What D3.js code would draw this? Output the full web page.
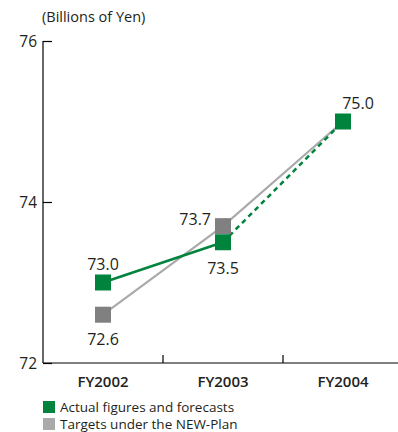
<!DOCTYPE html>
<html>
<head>
<meta charset="utf-8">
<script src="https://cdn.jsdelivr.net/npm/d3@7"></script>
<style>
  html, body { margin: 0; padding: 0; background: #fff; }
  svg { display: block; font-family: "Open Sans", "Noto Sans", sans-serif; }
</style>
</head>
<body>
<svg id="chart" width="398" height="432"></svg>
<script>
// Fiscal years on the x axis
const categories = ["FY2002", "FY2003", "FY2004"];
// Actual figures and forecasts (billions of yen)
const actualValues = [73.0, 73.5, 75.0];
// Targets under the NEW-Plan (billions of yen)
const targetValues = [72.6, 73.7, 75.0];
const yTicks = [72, 74, 76];
const unitLabel = "(Billions of Yen)";
const legendLabels = ["Actual figures and forecasts", "Targets under the NEW-Plan"];

const GREEN = "#00843d";
const GRAY_MARK = "#808080";
const GRAY_LINE = "#aaaaaa";
const TEXT = "#231f20";

const svg = d3.select("#chart");
const plotLeft = 43, plotRight = 403, plotTop = 41, plotBottom = 363;

const x = d3.scaleBand().domain(categories).range([plotLeft, plotRight]).padding(0);
const y = d3.scaleLinear().domain([72, 76]).range([plotBottom, plotTop]);
const cx = d => x(d) + x.bandwidth() / 2;

// Unit caption
svg.append("text").attr("x", 42).attr("y", 22)
  .attr("font-size", 14.5).attr("fill", TEXT).text(unitLabel);

// Y axis: ticks point inward
const yAxis = svg.append("g").attr("transform", `translate(${plotLeft},0)`)
  .call(d3.axisRight(y).tickValues(yTicks).tickSize(9).tickFormat(""));
yAxis.select(".domain").remove();
yAxis.selectAll("line").attr("stroke", "#000").attr("stroke-width", 1.2);
svg.append("line").attr("x1", plotLeft).attr("x2", plotLeft).attr("y1", plotTop).attr("y2", plotBottom)
  .attr("stroke", "#000").attr("stroke-width", 1.2);
svg.selectAll("text.ytick").data(yTicks).join("text").attr("class", "ytick")
  .attr("x", 37).attr("y", d => y(d) + 5.5).attr("text-anchor", "end")
  .attr("font-size", 15.5).attr("fill", TEXT).text(d => d);

// X axis: baseline with separators between categories
svg.append("line").attr("x1", plotLeft).attr("x2", 398).attr("y1", plotBottom).attr("y2", plotBottom)
  .attr("stroke", "#000").attr("stroke-width", 1.2);
svg.selectAll("line.sep").data(categories.slice(1)).join("line").attr("class", "sep")
  .attr("x1", d => x(d)).attr("x2", d => x(d))
  .attr("y1", plotBottom).attr("y2", plotBottom - 8)
  .attr("stroke", "#000").attr("stroke-width", 1.2);
svg.selectAll("text.cat").data(categories).join("text").attr("class", "cat")
  .attr("x", d => cx(d)).attr("y", 387).attr("text-anchor", "middle")
  .attr("font-size", 15).attr("font-weight", 600).attr("fill", TEXT).text(d => d);

// Lines
const line = d3.line().x(d => cx(d.c)).y(d => y(d.v));
const target = categories.map((c, i) => ({ c, v: targetValues[i] }));
const actual = categories.map((c, i) => ({ c, v: actualValues[i] }));

svg.append("path").datum(target).attr("d", line)
  .attr("fill", "none").attr("stroke", GRAY_LINE).attr("stroke-width", 2.2);
svg.append("path").datum(actual.slice(0, 2)).attr("d", line)
  .attr("fill", "none").attr("stroke", GREEN).attr("stroke-width", 2.5);
svg.append("path").datum(actual.slice(1)).attr("d", line)
  .attr("fill", "none").attr("stroke", GREEN).attr("stroke-width", 2.5)
  .attr("stroke-dasharray", "5,4");

// Markers
const S = 16;
svg.selectAll("rect.tm").data(target.slice(0, 2)).join("rect").attr("class", "tm")
  .attr("x", d => cx(d.c) - S / 2).attr("y", d => y(d.v) - S / 2)
  .attr("width", S).attr("height", S).attr("fill", GRAY_MARK);
svg.selectAll("rect.am").data(actual).join("rect").attr("class", "am")
  .attr("x", d => cx(d.c) - S / 2).attr("y", d => y(d.v) - S / 2)
  .attr("width", S).attr("height", S).attr("fill", GREEN);

// Value labels
const fmt = d3.format(".1f");
const labels = [
  { c: categories[0], v: actualValues[0], dx: 0, dy: -13, anchor: "middle" },
  { c: categories[0], v: targetValues[0], dx: 0, dy: 30, anchor: "middle" },
  { c: categories[1], v: targetValues[1], dx: -12, dy: -1, anchor: "end" },
  { c: categories[1], v: actualValues[1], dx: 0, dy: 32, anchor: "middle" },
  { c: categories[2], v: actualValues[2], dx: 15, dy: -13, anchor: "middle" }
];
svg.selectAll("text.val").data(labels).join("text").attr("class", "val")
  .attr("x", d => cx(d.c) + d.dx).attr("y", d => y(d.v) + d.dy)
  .attr("text-anchor", d => d.anchor).attr("font-size", 16).attr("fill", TEXT)
  .text(d => fmt(d.v));

// Legend
const legendColors = [GREEN, "#aaaaaa"];
const lg = svg.selectAll("g.lg").data(legendLabels).join("g").attr("class", "lg")
  .attr("transform", (d, i) => `translate(43,${401 + i * 17})`);
lg.append("rect").attr("width", 12).attr("height", 12).attr("fill", (d, i) => legendColors[i]);
lg.append("text").attr("x", 17).attr("y", 11).attr("font-size", 13.5).attr("fill", TEXT).text(d => d);
</script>
</body>
</html>
